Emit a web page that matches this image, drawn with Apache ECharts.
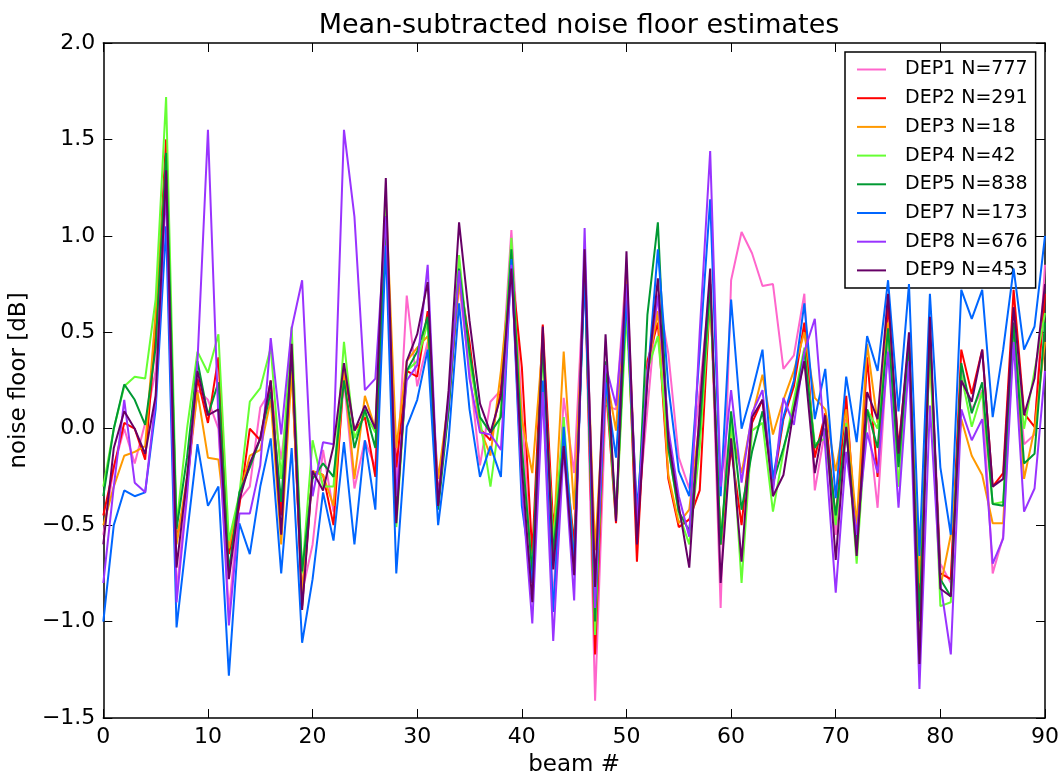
<!DOCTYPE html>
<html><head><meta charset="utf-8">
<script src="https://cdn.jsdelivr.net/npm/echarts@6/dist/echarts.min.js"></script>
<style>html,body{margin:0;padding:0;background:#fff}#c{width:1063px;height:782px}</style>
</head><body><div id="c"></div>
<script>
const beams = [0,1,2,3,4,5,6,7,8,9,10,11,12,13,14,15,16,17,18,19,20,21,22,23,24,25,26,27,28,29,30,31,32,33,34,35,36,37,38,39,40,41,42,43,44,45,46,47,48,49,50,51,52,53,54,55,56,57,58,59,60,61,62,63,64,65,66,67,68,69,70,71,72,73,74,75,76,77,78,79,80,81,82,83,84,85,86,87,88,89,90];
const seriesNames = ["DEP1 N=777","DEP2 N=291","DEP3 N=18","DEP4 N=42","DEP5 N=838","DEP7 N=173","DEP8 N=676","DEP9 N=453"];
const xTicks = [0,10,20,30,40,50,60,70,80,90];
const yTicks = [-1.5,-1.0,-0.5,0.0,0.5,1.0,1.5,2.0];

const dep1 = [-0.55,-0.2,0.0,-0.18,0.03,0.3,1.3,-0.85,-0.3,0.2,0.15,0.0,-0.95,-0.37,-0.3,0.11,0.2,-0.16,0.3,-0.85,-0.6,-0.11,-0.43,0.25,-0.31,-0.06,-0.2,1.15,-0.3,0.69,0.22,0.45,-0.35,0.15,0.75,0.3,-0.19,0.14,0.2,1.03,0.1,-0.8,0.2,-0.9,0.16,-0.23,0.85,-1.41,0.12,0.1,0.85,-0.5,0.1,0.7,0.39,-0.15,-0.31,0.2,0.75,-0.93,0.77,1.02,0.91,0.74,0.75,0.31,0.38,0.7,-0.32,0.0,-0.55,0.05,-0.55,0.1,-0.41,0.45,-0.3,0.4,-1.1,0.5,-0.7,-0.8,0.3,0.1,0.2,-0.75,-0.56,0.55,-0.08,-0.03,0.85];
const dep2 = [-0.45,-0.2,0.03,0.0,-0.16,0.5,1.5,-0.58,-0.3,0.26,0.03,0.37,-0.65,-0.4,0.0,-0.06,0.25,-0.45,0.35,-0.92,-0.22,-0.24,-0.5,0.3,-0.01,0.06,-0.25,1.1,-0.2,0.3,0.27,0.61,-0.35,0.1,0.8,0.45,0.0,-0.06,0.2,0.85,0.32,-0.65,0.54,-0.51,-0.05,-0.6,0.85,-1.17,0.25,-0.49,0.74,-0.69,0.35,0.55,-0.26,-0.51,-0.47,-0.32,0.7,-0.6,-0.1,-0.5,0.03,0.15,-0.3,0.05,0.22,0.55,-0.15,0.08,-0.47,0.17,-0.6,0.37,-0.25,0.65,-0.1,0.45,-0.95,0.45,-0.75,-0.78,0.41,0.18,0.41,-0.3,-0.23,0.72,0.08,0.01,0.7];
const dep3 = [-0.5,-0.3,-0.14,-0.12,-0.09,0.6,1.4,-0.6,-0.25,0.19,-0.15,-0.16,-0.62,-0.35,-0.14,-0.11,0.15,-0.6,0.3,-0.85,-0.22,-0.24,-0.4,0.3,-0.26,0.17,0.0,1.2,-0.1,0.35,0.42,0.48,-0.26,0.15,0.76,0.4,0.0,-0.14,0.3,0.85,0.05,-0.23,0.45,-0.6,0.4,-0.42,0.8,-0.63,0.3,-0.01,0.8,-0.5,0.3,0.61,-0.24,-0.49,-0.42,0.05,0.7,-0.6,0.0,-0.23,0.06,0.28,-0.03,0.15,0.3,0.5,0.16,0.1,-0.22,0.1,-0.5,0.44,0.03,0.55,-0.15,0.42,-0.8,0.4,-0.82,-0.55,0.05,-0.14,-0.24,-0.49,-0.49,0.5,-0.26,0.0,0.45];
const dep4 = [-0.3,0.0,0.22,0.27,0.26,0.67,1.72,-0.5,0.0,0.4,0.29,0.49,-0.58,-0.34,0.14,0.21,0.42,-0.26,0.53,-0.75,-0.06,-0.3,-0.3,0.45,-0.05,0.08,-0.02,1.15,-0.51,0.3,0.35,0.55,-0.38,0.12,0.9,0.35,0.05,-0.3,0.1,0.99,-0.1,-0.75,0.4,-0.6,0.06,-0.7,0.85,-1.07,0.3,-0.47,0.6,-0.5,0.3,0.48,-0.1,-0.44,-0.6,-0.1,0.7,-0.6,0.05,-0.8,-0.01,0.03,-0.43,-0.12,0.15,0.42,-0.08,-0.05,-0.5,0.03,-0.7,0.1,0.0,0.5,-0.3,0.4,-1.05,0.45,-0.92,-0.9,0.28,0.01,0.19,-0.39,-0.38,0.5,0.0,0.3,0.6];
const dep5 = [-0.35,0.0,0.23,0.15,0.02,0.42,1.43,-0.52,-0.15,0.35,0.07,0.24,-0.74,-0.33,-0.2,-0.05,0.19,-0.38,0.4,-0.74,-0.26,-0.18,-0.25,0.25,-0.1,0.1,-0.1,1.1,-0.45,0.3,0.4,0.58,-0.42,0.1,0.83,0.4,0.06,-0.02,0.06,0.93,-0.1,-0.75,0.45,-0.65,-0.05,-0.7,0.85,-1.0,0.35,-0.45,0.7,-0.55,0.59,1.07,-0.1,-0.43,-0.53,0.0,0.75,-0.6,0.09,-0.42,-0.12,0.09,-0.28,-0.1,0.1,0.4,-0.1,0.0,-0.45,0.0,-0.6,0.1,-0.1,0.52,-0.2,0.45,-1.0,0.5,-0.78,-0.87,0.34,0.08,0.24,-0.39,-0.4,0.55,-0.18,-0.13,0.55];
const dep7 = [-1.0,-0.5,-0.32,-0.35,-0.33,0.1,1.05,-1.03,-0.55,-0.08,-0.4,-0.3,-1.28,-0.49,-0.65,-0.3,-0.05,-0.75,-0.1,-1.11,-0.78,-0.33,-0.58,-0.07,-0.6,-0.06,-0.42,0.95,-0.75,0.01,0.15,0.41,-0.5,-0.06,0.65,0.1,-0.25,-0.09,-0.25,0.88,-0.4,-0.8,0.25,-0.95,0.01,-0.7,0.8,-0.9,0.24,-0.15,0.67,-0.42,0.25,0.93,0.22,-0.22,-0.35,0.4,1.19,-0.35,0.67,0.0,0.19,0.41,-0.26,0.06,0.25,0.65,0.05,0.31,-0.36,0.27,-0.07,0.48,0.3,0.77,0.09,0.75,-0.66,0.7,-0.2,-0.55,0.72,0.57,0.72,0.06,0.41,0.83,0.41,0.53,1.0];
const dep8 = [-0.8,-0.3,0.15,-0.28,-0.33,0.15,1.25,-0.9,-0.35,0.35,1.55,0.05,-1.02,-0.44,-0.44,-0.19,0.47,-0.03,0.52,0.77,-0.35,-0.07,-0.08,1.55,1.1,0.2,0.26,1.1,-0.35,0.25,0.33,0.85,-0.38,0.15,0.82,0.26,-0.02,-0.03,-0.11,0.85,-0.3,-1.01,0.19,-1.1,-0.1,-0.89,1.04,-0.93,0.33,0.12,0.75,-0.5,0.3,0.69,0.0,-0.35,-0.56,0.5,1.44,-0.3,0.2,-0.28,0.08,0.2,-0.33,0.16,0.02,0.4,0.57,-0.1,-0.85,-0.12,-0.55,-0.02,-0.23,0.4,-0.41,0.35,-1.35,0.12,-0.8,-1.17,0.1,-0.06,0.05,-0.7,-0.57,0.45,-0.43,-0.31,0.3];
const dep9 = [-0.6,-0.1,0.09,0.0,-0.13,0.17,1.34,-0.72,-0.25,0.3,0.07,0.1,-0.78,-0.37,-0.18,-0.05,0.25,-0.55,0.44,-0.94,-0.22,-0.32,-0.09,0.34,-0.01,0.12,0.0,1.3,-0.49,0.35,0.49,0.76,-0.4,0.2,1.07,0.56,0.13,-0.02,0.17,0.83,-0.2,-0.9,0.53,-0.73,-0.09,-0.76,0.93,-0.82,0.49,-0.48,0.92,-0.6,0.25,0.78,-0.05,-0.4,-0.72,0.1,0.83,-0.8,-0.05,-0.69,0.06,0.15,-0.35,-0.24,0.1,0.35,-0.23,0.07,-0.68,0.01,-0.66,0.19,0.05,0.7,-0.13,0.5,-1.22,0.58,-0.83,-0.87,0.25,0.14,0.41,-0.3,-0.26,0.63,0.07,0.26,0.75];

const allData = [dep1,dep2,dep3,dep4,dep5,dep7,dep8,dep9];
const colors = ['#ff66cc','#ff0000','#ff9900','#66ff33','#009933','#0066ff','#9933ff','#660066'];
const FONT = 'DejaVu Sans';
const fmtY = v => (v < 0 ? '\u2212' : '') + Math.abs(v).toFixed(1);

const chart = echarts.init(document.getElementById('c'), null, {renderer:'canvas'});
const axisCommon = {
  axisLine:{show:true, onZero:false, lineStyle:{color:'#000', width:1.5}},
  axisTick:{show:true, inside:true, length:9, lineStyle:{color:'#000', width:1}},
  splitLine:{show:false}
};
chart.setOption({
  animation:false,
  backgroundColor:'#fff',
  title:{text:'Mean-subtracted noise floor estimates', left:574, textAlign:'center', top:7,
    textStyle:{fontFamily:FONT, fontSize:27, fontWeight:'normal', color:'#000'}},
  grid:{left:103, right:18, top:43, bottom:62, containLabel:false},
  legend:{
    orient:'vertical', left:845, top:52, width:190,
    backgroundColor:'#fff', borderColor:'#000', borderWidth:1.5, borderRadius:0,
    padding:[8,8,8,12], itemGap:9.7, itemWidth:29, itemHeight:2, icon:'rect',
    textStyle:{fontFamily:FONT, fontSize:19, color:'#000', padding:[0,0,0,14]},
    data: seriesNames
  },
  xAxis:[
    Object.assign({type:'value', min:0, max:90, interval:10, position:'bottom',
      name:'beam #', nameLocation:'middle', nameGap:36,
      nameTextStyle:{fontFamily:FONT, fontSize:23, color:'#000'},
      axisLabel:{fontFamily:FONT, fontSize:22, color:'#000', margin:8}}, axisCommon),
    Object.assign({type:'value', min:0, max:90, interval:10, position:'top',
      axisLabel:{show:false}}, axisCommon)
  ],
  yAxis:[
    Object.assign({type:'value', min:-1.5, max:2.0, interval:0.5, position:'left',
      name:'noise floor [dB]', nameLocation:'middle', nameGap:71, nameRotate:90,
      nameTextStyle:{fontFamily:FONT, fontSize:23, color:'#000'},
      axisLabel:{fontFamily:FONT, fontSize:22, color:'#000', margin:8, formatter:fmtY}}, axisCommon),
    Object.assign({type:'value', min:-1.5, max:2.0, interval:0.5, position:'right',
      axisLabel:{show:false}}, axisCommon)
  ],
  series: allData.map((d,i)=>({
    name: seriesNames[i], type:'line', xAxisIndex:0, yAxisIndex:0,
    data: beams.map((b,j)=>[b, d[j]]),
    showSymbol:false, symbol:'none',
    lineStyle:{color:colors[i], width:2}, itemStyle:{color:colors[i]},
    z: 2+i
  }))
});
</script></body></html>
